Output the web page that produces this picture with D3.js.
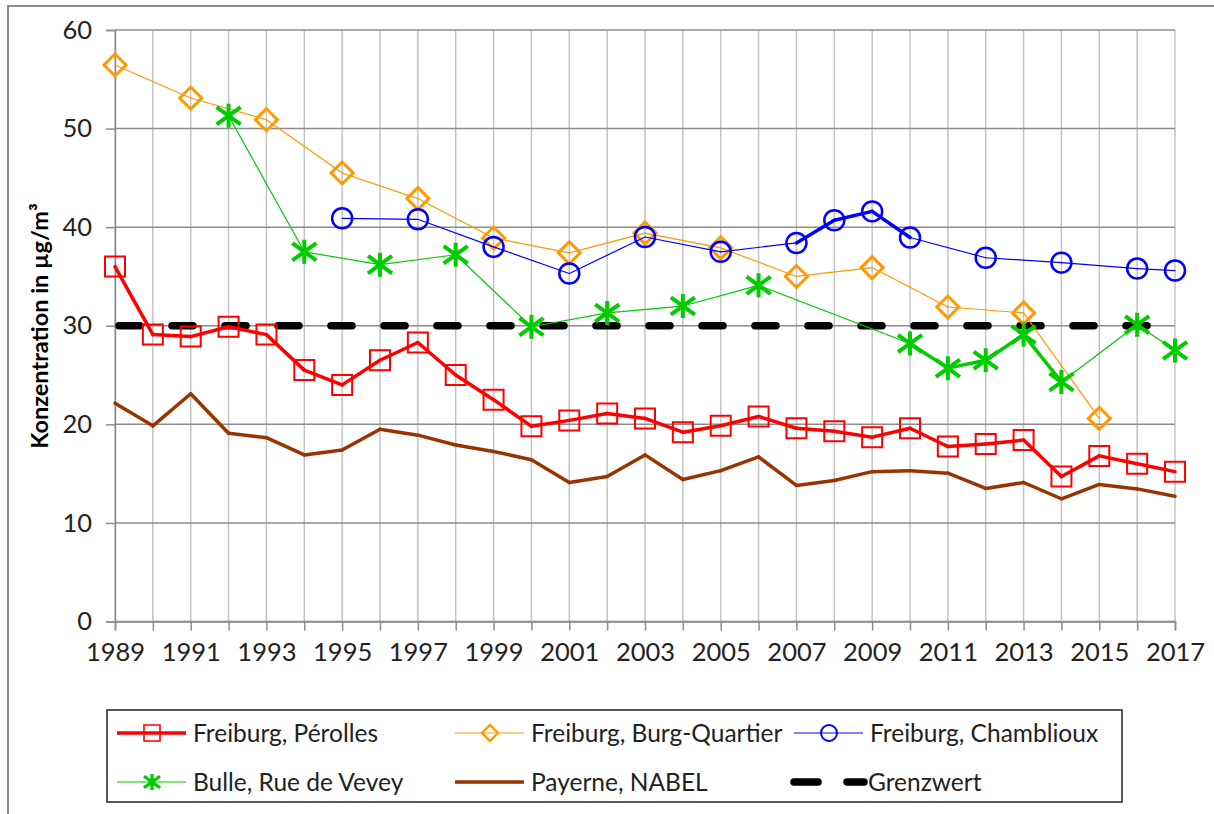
<!DOCTYPE html>
<html>
<head>
<meta charset="utf-8">
<script src="https://cdn.jsdelivr.net/npm/d3@7"></script>
<style>
  body { margin: 0; background: #fff; }
  text { font-family: Lato, "Open Sans", sans-serif; fill: #222; }
</style>
</head>
<body>
<div id="chart"></div>
<script>
// NO2 annual means
var years = d3.range(1989, 2018);

var perolles = [36.0, 29.1, 28.9, 29.9, 29.1, 25.5, 24.0, 26.5, 28.3, 25.0,
  22.5, 19.8, 20.4, 21.1, 20.6, 19.2, 19.85, 20.8, 19.6, 19.3,
  18.7, 19.6, 17.75, 18.0, 18.4, 14.7, 16.8, 16.0, 15.2];

var payerne = [22.15, 19.85, 23.1, 19.1, 18.65, 16.9, 17.4, 19.5, 18.9, 17.9,
  17.25, 16.4, 14.1, 14.7, 16.9, 14.4, 15.3, 16.7, 13.8, 14.3,
  15.2, 15.3, 15.05, 13.5, 14.1, 12.45, 13.9, 13.45, 12.7];

var burgYears = [1989, 1991, 1993, 1995, 1997, 1999, 2001, 2003, 2005, 2007, 2009, 2011, 2013, 2015];
var burgValues = [56.45, 53.1, 50.9, 45.5, 42.9, 38.9, 37.4, 39.4, 37.9, 35.0, 35.9, 31.9, 31.3, 20.6];

var chamYears = [1995, 1997, 1999, 2001, 2003, 2005, 2007, 2008, 2009, 2010, 2012, 2014, 2016, 2017];
var chamValues = [40.9, 40.8, 38.0, 35.3, 39.0, 37.5, 38.4, 40.7, 41.6, 38.95, 36.9, 36.4, 35.8, 35.6];

var bulleYears = [1992, 1994, 1996, 1998, 2000, 2002, 2004, 2006, 2010, 2011, 2012, 2013, 2014, 2016, 2017];
var bulleValues = [51.3, 37.5, 36.2, 37.2, 29.9, 31.3, 32.0, 34.1, 28.2, 25.7, 26.5, 29.1, 24.3, 30.1, 27.5];

var grenzwert = 30;
var yTicks = [0, 10, 20, 30, 40, 50, 60];

var svgWidth = 1214;
var svgHeight = 814;

var svg = d3.select("#chart")
  .append("svg")
  .attr("width", svgWidth)
  .attr("height", svgHeight);

// outer chart frame
svg.append("rect")
  .attr("x", 8).attr("y", 6)
  .attr("width", 1230).attr("height", 830)
  .attr("fill", "none")
  .attr("stroke", "#8c8c8c")
  .attr("stroke-width", 2);

var xScale = d3.scaleLinear().domain([1989, 2017]).range([115, 1175]);
var yScale = d3.scaleLinear().domain([0, 60]).range([621.5, 30]);

// vertical gridlines
svg.append("g").selectAll("line")
  .data(years)
  .enter()
  .append("line")
  .attr("x1", d => xScale(d)).attr("x2", d => xScale(d))
  .attr("y1", yScale(60)).attr("y2", yScale(0))
  .attr("stroke", "#c4c4c4")
  .attr("stroke-width", 1.5);

// horizontal gridlines
svg.append("g").selectAll("line")
  .data(yTicks)
  .enter()
  .append("line")
  .attr("x1", xScale(1989)).attr("x2", xScale(2017))
  .attr("y1", d => yScale(d)).attr("y2", d => yScale(d))
  .attr("stroke", "#8c8c8c")
  .attr("stroke-width", 1.5);

var xAxis = d3.axisBottom(xScale)
  .tickValues(years)
  .tickSize(9)
  .tickPadding(12)
  .tickFormat(d => d % 2 === 1 ? String(d) : "");

var xg = svg.append("g")
  .attr("transform", `translate(0, ${yScale(0)})`)
  .call(xAxis);
xg.selectAll("line").attr("stroke", "#8c8c8c").attr("stroke-width", 1.5);
xg.select(".domain").attr("stroke", "#8c8c8c").attr("stroke-width", 1.5);
xg.selectAll("text").attr("font-size", 25.5).attr("font-family", "Lato").style("fill", "#222");

var yAxis = d3.axisLeft(yScale)
  .tickValues(yTicks)
  .tickSize(9)
  .tickPadding(14);

var yg = svg.append("g")
  .attr("transform", `translate(${xScale(1989)}, 0)`)
  .call(yAxis);
yg.selectAll("line").attr("stroke", "#8c8c8c").attr("stroke-width", 1.5);
yg.select(".domain").attr("stroke", "#8c8c8c").attr("stroke-width", 1.5);
yg.selectAll("text").attr("font-size", 25.5).attr("font-family", "Lato").style("fill", "#222");

svg.append("text")
  .attr("transform", `translate(48, 326) rotate(-90)`)
  .attr("text-anchor", "middle")
  .attr("font-size", 23.5)
  .attr("font-weight", "bold")
  .style("fill", "#000")
  .text("Konzentration in µg/m³");

// marker shapes
function markerPath(type, s) {
  if (type === "square") return `M${-s},${-s}H${s}V${s}H${-s}Z`;
  if (type === "diamond") return `M0,${-s}L${s},0L0,${s}L${-s},0Z`;
  if (type === "circle") return `M${s},0A${s},${s} 0 1,1 ${-s},0A${s},${s} 0 1,1 ${s},0Z`;
  if (type === "star") {
    var w = s, h = s * 0.72;
    return `M0,${-s}V${s}M${-w},${-h}L${w},${h}M${-w},${h}L${w},${-h}`;
  }
  return "";
}

function toPoints(xs, vs) {
  return xs.map((x, i) => ({ year: x, value: vs[i] }));
}

var series = [
  { name: "Payerne, NABEL", pts: toPoints(years, payerne), color: "#993300",
    thin: 3.5, thick: 3.5, thickFrom: years, marker: null },
  { name: "Freiburg, Burg-Quartier", pts: toPoints(burgYears, burgValues), color: "#ff9900",
    thin: 1.2, thick: 1.2, thickFrom: [], marker: "diamond", size: 11, mw: 3 },
  { name: "Freiburg, Chamblioux", pts: toPoints(chamYears, chamValues), color: "#0000ff",
    thin: 1.2, thick: 3.5, thickFrom: [2007, 2008, 2009], marker: "circle", size: 10, mw: 2.5 },
  { name: "Bulle, Rue de Vevey", pts: toPoints(bulleYears, bulleValues), color: "#00cc00",
    thin: 1.2, thick: 3.5, thickFrom: [2010, 2011, 2012, 2013], marker: "star", size: 12, mw: 4 },
  { name: "Freiburg, Pérolles", pts: toPoints(years, perolles), color: "#ff0000",
    thin: 3.5, thick: 3.5, thickFrom: years, marker: "square", size: 10, mw: 2 }
];

// Grenzwert line
svg.append("line")
  .attr("x1", xScale(1989) + 4).attr("x2", xScale(2017))
  .attr("y1", yScale(grenzwert)).attr("y2", yScale(grenzwert))
  .attr("stroke", "#000")
  .attr("stroke-width", 7.5)
  .attr("stroke-linecap", "round")
  .attr("stroke-dasharray", "21,32");

series.forEach(function(s) {
  var segs = d3.pairs(s.pts);
  var g = svg.append("g");
  g.selectAll("line")
    .data(segs)
    .enter()
    .append("line")
    .attr("x1", d => xScale(d[0].year)).attr("y1", d => yScale(d[0].value))
    .attr("x2", d => xScale(d[1].year)).attr("y2", d => yScale(d[1].value))
    .attr("stroke", s.color)
    .attr("stroke-linecap", "round")
    .attr("stroke-width", d => s.thickFrom.indexOf(d[0].year) >= 0 && d[1].year - d[0].year === 1 ? s.thick : s.thin);
  if (s.marker) {
    g.selectAll("path")
      .data(s.pts)
      .enter()
      .append("path")
      .attr("transform", d => `translate(${xScale(d.year)}, ${yScale(d.value)})`)
      .attr("d", markerPath(s.marker, s.size))
      .attr("fill", "none")
      .attr("stroke", s.color)
      .attr("stroke-width", s.mw);
  }
});

// legend
var legend = svg.append("g");
legend.append("rect")
  .attr("x", 107).attr("y", 710)
  .attr("width", 1015).attr("height", 92)
  .attr("fill", "#fff")
  .attr("stroke", "#222")
  .attr("stroke-width", 1.5);

var legendItems = [
  { s: series[4], x: 117, y: 733, lw: 3.5 },
  { s: series[1], x: 455, y: 733, lw: 1.2 },
  { s: series[2], x: 794, y: 733, lw: 1.2 },
  { s: series[3], x: 117, y: 782, lw: 1.2 },
  { s: series[0], x: 455, y: 782, lw: 3.5 }
];

legendItems.forEach(function(item) {
  legend.append("line")
    .attr("x1", item.x).attr("x2", item.x + 69)
    .attr("y1", item.y).attr("y2", item.y)
    .attr("stroke", item.s.color)
    .attr("stroke-width", item.lw);
  if (item.s.marker) {
    legend.append("path")
      .attr("transform", `translate(${item.x + 35}, ${item.y})`)
      .attr("d", markerPath(item.s.marker, 8))
      .attr("fill", "none")
      .attr("stroke", item.s.color)
      .attr("stroke-width", item.s.mw * 0.8);
  }
  legend.append("text")
    .attr("x", item.x + 76).attr("y", item.y)
    .attr("dy", "0.35em")
    .attr("font-size", 24.5)
    .text(item.s.name);
});

legend.append("line")
  .attr("x1", 794).attr("x2", 818)
  .attr("y1", 782).attr("y2", 782)
  .attr("stroke", "#000").attr("stroke-width", 7.5).attr("stroke-linecap", "round");
legend.append("line")
  .attr("x1", 847).attr("x2", 864)
  .attr("y1", 782).attr("y2", 782)
  .attr("stroke", "#000").attr("stroke-width", 7.5).attr("stroke-linecap", "round");
legend.append("text")
  .attr("x", 868).attr("y", 782)
  .attr("dy", "0.35em")
  .attr("font-size", 24.5)
  .text("Grenzwert");
</script>
</body>
</html>
